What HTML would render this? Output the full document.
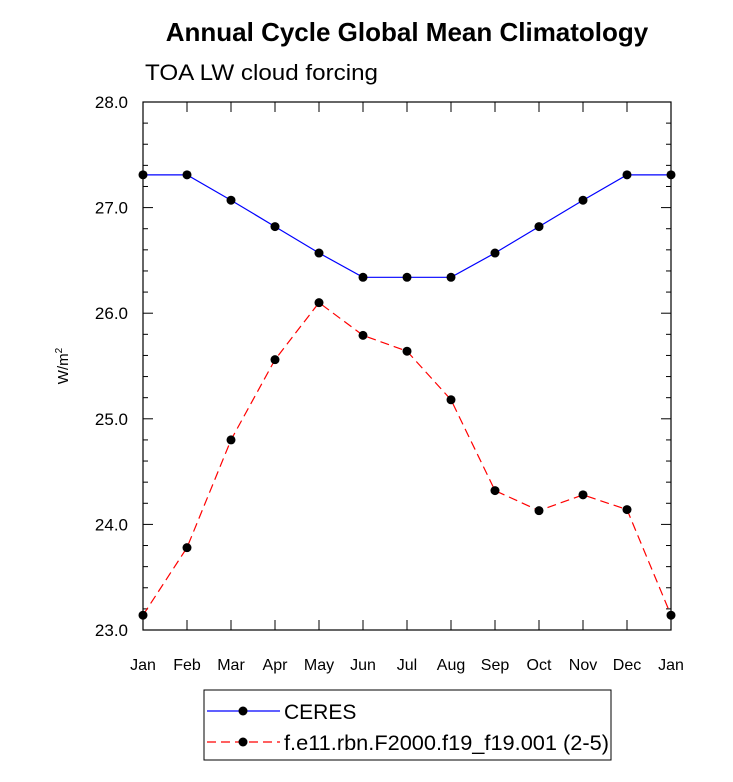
<!DOCTYPE html>
<html><head><meta charset="utf-8"><style>
body{margin:0;background:#fff;}
svg{display:block;font-family:"Liberation Sans",sans-serif;}
</style></head><body>
<svg id="chart" width="733" height="782" viewBox="0 0 733 782">
<text x="407" y="41" text-anchor="middle" font-size="26" font-weight="bold">Annual Cycle Global Mean Climatology</text>
<text x="145" y="80" font-size="22" textLength="233" lengthAdjust="spacingAndGlyphs">TOA LW cloud forcing</text>
<text transform="translate(68,366) rotate(-90)" text-anchor="middle" font-size="15">W/m<tspan dy="-6" font-size="10">2</tspan></text>
<g id="axes"></g>
<g id="series"></g>
<g>
<rect x="204" y="690" width="407" height="70" fill="#fff" stroke="#000" stroke-width="1"/>
<g>
<line x1="207" y1="711" x2="280" y2="711" stroke="#0000ff" stroke-width="1.2"/>
<circle cx="243" cy="711" r="4.5" fill="#000"/>
<text x="284" y="719" font-size="21">CERES</text></g>
<g>
<line x1="207" y1="742" x2="280" y2="742" stroke="#ff0000" stroke-width="1.2" stroke-dasharray="9,5"/>
<circle cx="243" cy="742" r="4.5" fill="#000"/>
<text x="284" y="750" font-size="21" textLength="325" lengthAdjust="spacingAndGlyphs">f.e11.rbn.F2000.f19_f19.001 (2-5)</text></g>
</g>
</svg>
<script>
const months=["Jan","Feb","Mar","Apr","May","Jun","Jul","Aug","Sep","Oct","Nov","Dec","Jan"];
const ceres=[27.31,27.31,27.07,26.82,26.57,26.34,26.34,26.34,26.57,26.82,27.07,27.31,27.31];
const model=[23.14,23.78,24.80,25.56,26.10,25.79,25.64,25.18,24.32,24.13,24.28,24.14,23.14];
const yTicks=["23.0","24.0","25.0","26.0","27.0","28.0"];
const L=143,R=671,T=102,B=630,ymin=23,ymax=28;
const NS="http://www.w3.org/2000/svg";
const xs=i=>L+(R-L)*i/(months.length-1);
const ys=v=>B-(B-T)*(v-ymin)/(ymax-ymin);
function mk(tag,attrs,parent){const e=document.createElementNS(NS,tag);for(const k in attrs)e.setAttribute(k,attrs[k]);parent.appendChild(e);return e;}
const ax=document.getElementById('axes');
const frame=mk('rect',{x:L,y:T,width:R-L,height:B-T,fill:'none',stroke:'#000','stroke-width':1.2},ax);


months.forEach((m,i)=>{const x=xs(i);
mk('line',{x1:x,y1:B,x2:x,y2:B-10,stroke:'#000'},ax);
mk('line',{x1:x,y1:T,x2:x,y2:T+10,stroke:'#000'},ax);
const t=mk('text',{x:x,y:B+40,'text-anchor':'middle','font-size':16},ax);t.textContent=m;

});
yTicks.forEach(s=>{const y=ys(parseFloat(s));
mk('line',{x1:L,y1:y,x2:L+10,y2:y,stroke:'#000'},ax);
mk('line',{x1:R,y1:y,x2:R-10,y2:y,stroke:'#000'},ax);
const t=mk('text',{x:L-15,y:y+6,'text-anchor':'end','font-size':17},ax);t.textContent=s;

});
for(let v=ymin;v<ymax-0.01;v+=0.2){if(Math.abs(v-Math.round(v))<0.01)continue;const y=ys(v);
mk('line',{x1:L,y1:y,x2:L+5,y2:y,stroke:'#000'},ax);
mk('line',{x1:R,y1:y,x2:R-5,y2:y,stroke:'#000'},ax);}
const sg=document.getElementById('series');
function draw(vals,color,dash,name){
const p=mk('polyline',{points:vals.map((v,i)=>xs(i)+','+ys(v)).join(' '),fill:'none',stroke:color,'stroke-width':1.2,'stroke-dasharray':dash},sg);


vals.forEach((v,i)=>{const c=mk('circle',{cx:xs(i),cy:ys(v),r:4.5,fill:'#000'},sg);

});}
draw(ceres,'#0000ff','none','ceres');
draw(model,'#ff0000','9,5','model');
</script>
</body></html>
